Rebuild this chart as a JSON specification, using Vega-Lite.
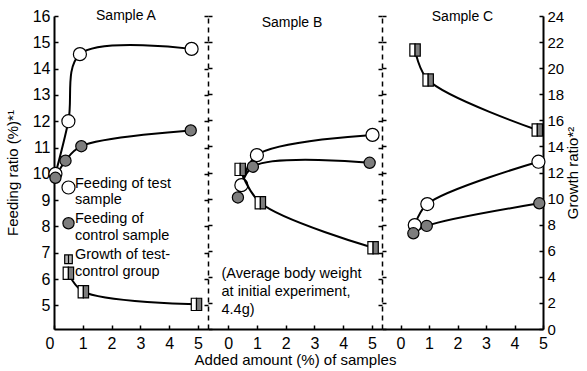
{
  "$schema": "https://vega.github.io/schema/vega-lite/v6.json",
  "bounds": "flush",
  "spacing": 0,
  "padding": {"left": 5, "top": 8, "right": 0, "bottom": 2},
  "config": {
    "font": "Liberation Sans",
    "view": {"stroke": null},
    "axis": {"grid": false, "domainColor": "black", "tickColor": "black", "labelColor": "black", "titleColor": "black", "labelFontSize": 16, "titleFontSize": 15, "titleFontWeight": "normal", "domainWidth": 2, "tickWidth": 1.5},
    "axisX": {"labelOverlap": false, "labelFlush": false},
    "title": {"fontSize": 14, "fontWeight": "normal", "color": "black", "baseline": "bottom", "offset": -15},
    "legend": {"orient": "none", "legendX": 7, "legendY": 164, "labelFontSize": 14.5, "labelColor": "black", "rowPadding": 4, "labelBaseline": "alphabetic", "labelOffset": -1, "labelLimit": 0, "symbolStrokeWidth": 1.2}
  },
  "datasets": {
    "feed": [
      {"panel": "A", "series": "test", "x": 0.05, "value": 10.0},
      {"panel": "A", "series": "test", "x": 0.5, "value": 12.0},
      {"panel": "A", "series": "test", "x": 0.9, "value": 14.55},
      {"panel": "A", "series": "test", "x": 4.78, "value": 14.75},
      {"panel": "A", "series": "control", "x": 0.05, "value": 9.85},
      {"panel": "A", "series": "control", "x": 0.4, "value": 10.5},
      {"panel": "A", "series": "control", "x": 0.95, "value": 11.05},
      {"panel": "A", "series": "control", "x": 4.75, "value": 11.65},
      {"panel": "B", "series": "test", "x": 0.46, "value": 9.57},
      {"panel": "B", "series": "test", "x": 1.0, "value": 10.71},
      {"panel": "B", "series": "test", "x": 5.02, "value": 11.48},
      {"panel": "B", "series": "control", "x": 0.34, "value": 9.1},
      {"panel": "B", "series": "control", "x": 0.86, "value": 10.27},
      {"panel": "B", "series": "control", "x": 4.92, "value": 10.42},
      {"panel": "C", "series": "test", "x": 0.5, "value": 8.05},
      {"panel": "C", "series": "test", "x": 0.94, "value": 8.85},
      {"panel": "C", "series": "test", "x": 4.84, "value": 10.46},
      {"panel": "C", "series": "control", "x": 0.45, "value": 7.74},
      {"panel": "C", "series": "control", "x": 0.92, "value": 8.02},
      {"panel": "C", "series": "control", "x": 4.87, "value": 8.88}
    ],
    "growth": [
      {"panel": "A", "series": "growth", "x": 0.5, "value": 4.27},
      {"panel": "A", "series": "growth", "x": 1.02, "value": 2.86},
      {"panel": "A", "series": "growth", "x": 4.95, "value": 1.89},
      {"panel": "B", "series": "growth", "x": 0.42, "value": 12.24},
      {"panel": "B", "series": "growth", "x": 1.12, "value": 9.68},
      {"panel": "B", "series": "growth", "x": 5.04, "value": 6.23},
      {"panel": "C", "series": "growth", "x": 0.51, "value": 21.39},
      {"panel": "C", "series": "growth", "x": 0.97, "value": 19.09},
      {"panel": "C", "series": "growth", "x": 4.8, "value": 15.26}
    ],
    "note": [
      {"panel": "B", "x": -0.23, "value": 6.45}
    ]
  },
  "hconcat": [
    {
      "width": 154, "height": 313,
      "title": {"text": "Sample A", "dx": -5},
      "resolve": {"scale": {"y": "independent"}},
      "layer": [
        {
          "data": {"name": "feed"},
          "transform": [{"filter": "datum.panel === 'A'"}],
          "encoding": {
            "x": {"field": "x", "type": "quantitative", "scale": {"domain": [0, 5.35], "nice": false, "zero": false}, "axis": {"values": [0, 1, 2, 3, 4, 5], "title": null, "tickSize": -4, "labelPadding": 10, "labelOverlap": false, "labelFlush": false, "labelAlign": {"condition": {"test": "datum.value === 0", "value": "right"}, "value": "center"}}},
            "y": {"field": "value", "type": "quantitative", "scale": {"domain": [4.1, 16], "nice": false, "zero": false}, "axis": {"orient": "left", "values": [5, 6, 7, 8, 9, 10, 11, 12, 13, 14, 15, 16], "title": "Feeding ratio (%)*¹", "tickSize": -4, "labelPadding": 8, "titlePadding": 12}}
          },
          "layer": [
            {"mark": {"type": "line", "interpolate": "catmull-rom", "color": "black", "strokeWidth": 2}, "encoding": {"detail": {"field": "series"}}},
            {"mark": {"type": "point", "filled": true, "strokeWidth": 1.2, "opacity": 1},
             "encoding": {
               "stroke": {"field": "series", "type": "nominal", "title": null, "scale": {"domain": ["test", "control", "growth"], "range": ["black", "black", "black"]}, "legend": {"labelExpr": "datum.label == 'test' ? ['Feeding of test', 'sample'] : datum.label == 'control' ? ['Feeding of', 'control sample'] : ['Growth of test-', 'control group']"}},
               "shape": {"field": "series", "type": "nominal", "title": null, "scale": {"domain": ["test", "control", "growth"], "range": ["circle", "circle", "M-0.85,-1L0.85,-1L0.85,1L-0.85,1ZM0,-1L0,1"]}, "legend": {"labelExpr": "datum.label == 'test' ? ['Feeding of test', 'sample'] : datum.label == 'control' ? ['Feeding of', 'control sample'] : ['Growth of test-', 'control group']"}},
               "fill": {"field": "series", "type": "nominal", "title": null, "scale": {"domain": ["test", "control", "growth"], "range": ["white", "#7d7d7d", "#b5b5b5"]}, "legend": {"labelExpr": "datum.label == 'test' ? ['Feeding of test', 'sample'] : datum.label == 'control' ? ['Feeding of', 'control sample'] : ['Growth of test-', 'control group']"}},
               "size": {"field": "series", "type": "nominal", "title": null, "scale": {"domain": ["test", "control", "growth"], "range": [170, 80, 150]}, "legend": {"labelExpr": "datum.label == 'test' ? ['Feeding of test', 'sample'] : datum.label == 'control' ? ['Feeding of', 'control sample'] : ['Growth of test-', 'control group']"}}
             }}
          ]
        },
        {
          "data": {"name": "growth"},
          "transform": [{"filter": "datum.panel === 'A'"}],
          "encoding": {
            "x": {"field": "x", "type": "quantitative", "scale": {"domain": [0, 5.35], "nice": false, "zero": false}, "axis": {"values": [0, 1, 2, 3, 4, 5], "title": null, "tickSize": -4, "labelPadding": 10, "labelOverlap": false, "labelFlush": false, "labelAlign": {"condition": {"test": "datum.value === 0", "value": "right"}, "value": "center"}}},
            "y": {"field": "value", "type": "quantitative", "scale": {"domain": [0, 24], "nice": false}, "axis": {"orient": "right", "values": [0, 2, 4, 6, 8, 10, 12, 14, 16, 18, 20, 22, 24], "labels": false, "title": null, "domainDash": [5, 4], "domainWidth": 1.5, "tickSize": 4}}
          },
          "layer": [
            {"mark": {"type": "line", "interpolate": "catmull-rom", "color": "black", "strokeWidth": 2}, "encoding": {"detail": {"field": "series"}}},
            {"mark": {"type": "point", "filled": true, "stroke": "black", "strokeWidth": 1.2, "opacity": 1},
             "encoding": {
               "shape": {"field": "series", "type": "nominal", "legend": null, "scale": {"domain": ["test", "control", "growth"], "range": ["circle", "circle", "M-0.85,-1L0.85,-1L0.85,1L-0.85,1ZM0,-1L0,1"]}},
               "fill": {"field": "series", "type": "nominal", "legend": null, "scale": {"domain": ["test", "control", "growth"], "range": ["white", "#7d7d7d", "#b5b5b5"]}},
               "size": {"field": "series", "type": "nominal", "legend": null, "scale": {"domain": ["test", "control", "growth"], "range": [170, 80, 150]}}
             }},
            {"mark": {"type": "point", "filled": true, "shape": "M-0.85,-1L0,-1L0,1L-0.85,1Z", "size": 150, "fill": "white", "stroke": "black", "strokeWidth": 1.2, "opacity": 1}, "encoding": {}},
            {"mark": {"type": "point", "filled": true, "shape": "M0,-1L0.85,-1L0.85,1L0,1Z", "size": 150, "fill": "#7d7d7d", "stroke": "black", "strokeWidth": 1.2, "opacity": 1}, "encoding": {}}
          ]
        }
      ]
    },
    {
      "width": 174, "height": 313,
      "title": {"text": "Sample B", "dx": -3},
      "resolve": {"scale": {"y": "independent"}},
      "layer": [
        {
          "data": {"name": "feed"},
          "transform": [{"filter": "datum.panel === 'B'"}],
          "encoding": {
            "x": {"field": "x", "type": "quantitative", "scale": {"domain": [-0.7, 5.35], "nice": false, "zero": false}, "axis": {"values": [0, 1, 2, 3, 4, 5], "title": "Added amount (%) of samples", "titlePadding": 1, "tickSize": -4, "labelPadding": 10, "labelOverlap": false, "labelFlush": false}},
            "y": {"field": "value", "type": "quantitative", "scale": {"domain": [4.1, 16], "nice": false, "zero": false}, "axis": {"orient": "left", "values": [5, 6, 7, 8, 9, 10, 11, 12, 13, 14, 15, 16], "labels": false, "title": null, "domain": false, "tickSize": 4}}
          },
          "layer": [
            {"mark": {"type": "line", "interpolate": "catmull-rom", "color": "black", "strokeWidth": 2}, "encoding": {"detail": {"field": "series"}}},
            {"mark": {"type": "point", "filled": true, "stroke": "black", "strokeWidth": 1.2, "opacity": 1},
             "encoding": {
               "shape": {"field": "series", "type": "nominal", "legend": null, "scale": {"domain": ["test", "control", "growth"], "range": ["circle", "circle", "M-0.85,-1L0.85,-1L0.85,1L-0.85,1ZM0,-1L0,1"]}},
               "fill": {"field": "series", "type": "nominal", "legend": null, "scale": {"domain": ["test", "control", "growth"], "range": ["white", "#7d7d7d", "#b5b5b5"]}},
               "size": {"field": "series", "type": "nominal", "legend": null, "scale": {"domain": ["test", "control", "growth"], "range": [170, 80, 150]}}
             }}
          ]
        },
        {
          "data": {"name": "note"},
          "mark": {"type": "text", "text": ["(Average body weight", "at initial experiment,", "4.4g)"], "align": "left", "baseline": "top", "fontSize": 14.5, "lineHeight": 18, "color": "black"},
          "encoding": {
            "x": {"field": "x", "type": "quantitative", "scale": {"domain": [-0.7, 5.35], "nice": false, "zero": false}, "axis": {"values": [0, 1, 2, 3, 4, 5], "title": "Added amount (%) of samples", "titlePadding": 1, "tickSize": -4, "labelPadding": 10, "labelOverlap": false, "labelFlush": false}},
            "y": {"field": "value", "type": "quantitative", "scale": {"domain": [4.1, 16], "nice": false, "zero": false}, "axis": null}
          }
        },
        {
          "data": {"name": "growth"},
          "transform": [{"filter": "datum.panel === 'B'"}],
          "encoding": {
            "x": {"field": "x", "type": "quantitative", "scale": {"domain": [-0.7, 5.35], "nice": false, "zero": false}, "axis": {"values": [0, 1, 2, 3, 4, 5], "title": "Added amount (%) of samples", "titlePadding": 1, "tickSize": -4, "labelPadding": 10, "labelOverlap": false, "labelFlush": false}},
            "y": {"field": "value", "type": "quantitative", "scale": {"domain": [0, 24], "nice": false}, "axis": {"orient": "right", "values": [0, 2, 4, 6, 8, 10, 12, 14, 16, 18, 20, 22, 24], "labels": false, "title": null, "domainDash": [5, 4], "domainWidth": 1.5, "tickSize": 4}}
          },
          "layer": [
            {"mark": {"type": "line", "interpolate": "catmull-rom", "color": "black", "strokeWidth": 2}, "encoding": {"detail": {"field": "series"}}},
            {"mark": {"type": "point", "filled": true, "stroke": "black", "strokeWidth": 1.2, "opacity": 1},
             "encoding": {
               "shape": {"field": "series", "type": "nominal", "legend": null, "scale": {"domain": ["test", "control", "growth"], "range": ["circle", "circle", "M-0.85,-1L0.85,-1L0.85,1L-0.85,1ZM0,-1L0,1"]}},
               "fill": {"field": "series", "type": "nominal", "legend": null, "scale": {"domain": ["test", "control", "growth"], "range": ["white", "#7d7d7d", "#b5b5b5"]}},
               "size": {"field": "series", "type": "nominal", "legend": null, "scale": {"domain": ["test", "control", "growth"], "range": [170, 80, 150]}}
             }},
            {"mark": {"type": "point", "filled": true, "shape": "M-0.85,-1L0,-1L0,1L-0.85,1Z", "size": 150, "fill": "white", "stroke": "black", "strokeWidth": 1.2, "opacity": 1}, "encoding": {}},
            {"mark": {"type": "point", "filled": true, "shape": "M0,-1L0.85,-1L0.85,1L0,1Z", "size": 150, "fill": "#7d7d7d", "stroke": "black", "strokeWidth": 1.2, "opacity": 1}, "encoding": {}}
          ]
        }
      ]
    },
    {
      "width": 161, "height": 313,
      "title": {"text": "Sample C"},
      "resolve": {"scale": {"y": "independent"}},
      "layer": [
        {
          "data": {"name": "feed"},
          "transform": [{"filter": "datum.panel === 'C'"}],
          "encoding": {
            "x": {"field": "x", "type": "quantitative", "scale": {"domain": [-0.65, 5], "nice": false, "zero": false}, "axis": {"values": [0, 1, 2, 3, 4, 5], "title": null, "tickSize": -4, "labelPadding": 10, "labelOverlap": false, "labelFlush": false}},
            "y": {"field": "value", "type": "quantitative", "scale": {"domain": [4.1, 16], "nice": false, "zero": false}, "axis": {"orient": "left", "values": [5, 6, 7, 8, 9, 10, 11, 12, 13, 14, 15, 16], "labels": false, "title": null, "domain": false, "tickSize": 4}}
          },
          "layer": [
            {"mark": {"type": "line", "interpolate": "catmull-rom", "color": "black", "strokeWidth": 2}, "encoding": {"detail": {"field": "series"}}},
            {"mark": {"type": "point", "filled": true, "stroke": "black", "strokeWidth": 1.2, "opacity": 1},
             "encoding": {
               "shape": {"field": "series", "type": "nominal", "legend": null, "scale": {"domain": ["test", "control", "growth"], "range": ["circle", "circle", "M-0.85,-1L0.85,-1L0.85,1L-0.85,1ZM0,-1L0,1"]}},
               "fill": {"field": "series", "type": "nominal", "legend": null, "scale": {"domain": ["test", "control", "growth"], "range": ["white", "#7d7d7d", "#b5b5b5"]}},
               "size": {"field": "series", "type": "nominal", "legend": null, "scale": {"domain": ["test", "control", "growth"], "range": [170, 80, 150]}}
             }}
          ]
        },
        {
          "data": {"name": "growth"},
          "transform": [{"filter": "datum.panel === 'C'"}],
          "encoding": {
            "x": {"field": "x", "type": "quantitative", "scale": {"domain": [-0.65, 5], "nice": false, "zero": false}, "axis": {"values": [0, 1, 2, 3, 4, 5], "title": null, "tickSize": -4, "labelPadding": 10, "labelOverlap": false, "labelFlush": false}},
            "y": {"field": "value", "type": "quantitative", "scale": {"domain": [0, 24], "nice": false}, "axis": {"orient": "right", "values": [0, 2, 4, 6, 8, 10, 12, 14, 16, 18, 20, 22, 24], "title": "Growth ratio*²", "tickSize": -4, "labelPadding": 8, "labelFontSize": 15, "titleAngle": 270, "titleBaseline": "top", "titlePadding": 2}}
          },
          "layer": [
            {"mark": {"type": "line", "interpolate": "catmull-rom", "color": "black", "strokeWidth": 2}, "encoding": {"detail": {"field": "series"}}},
            {"mark": {"type": "point", "filled": true, "stroke": "black", "strokeWidth": 1.2, "opacity": 1},
             "encoding": {
               "shape": {"field": "series", "type": "nominal", "legend": null, "scale": {"domain": ["test", "control", "growth"], "range": ["circle", "circle", "M-0.85,-1L0.85,-1L0.85,1L-0.85,1ZM0,-1L0,1"]}},
               "fill": {"field": "series", "type": "nominal", "legend": null, "scale": {"domain": ["test", "control", "growth"], "range": ["white", "#7d7d7d", "#b5b5b5"]}},
               "size": {"field": "series", "type": "nominal", "legend": null, "scale": {"domain": ["test", "control", "growth"], "range": [170, 80, 150]}}
             }},
            {"mark": {"type": "point", "filled": true, "shape": "M-0.85,-1L0,-1L0,1L-0.85,1Z", "size": 150, "fill": "white", "stroke": "black", "strokeWidth": 1.2, "opacity": 1}, "encoding": {}},
            {"mark": {"type": "point", "filled": true, "shape": "M0,-1L0.85,-1L0.85,1L0,1Z", "size": 150, "fill": "#7d7d7d", "stroke": "black", "strokeWidth": 1.2, "opacity": 1}, "encoding": {}}
          ]
        }
      ]
    }
  ]
}
